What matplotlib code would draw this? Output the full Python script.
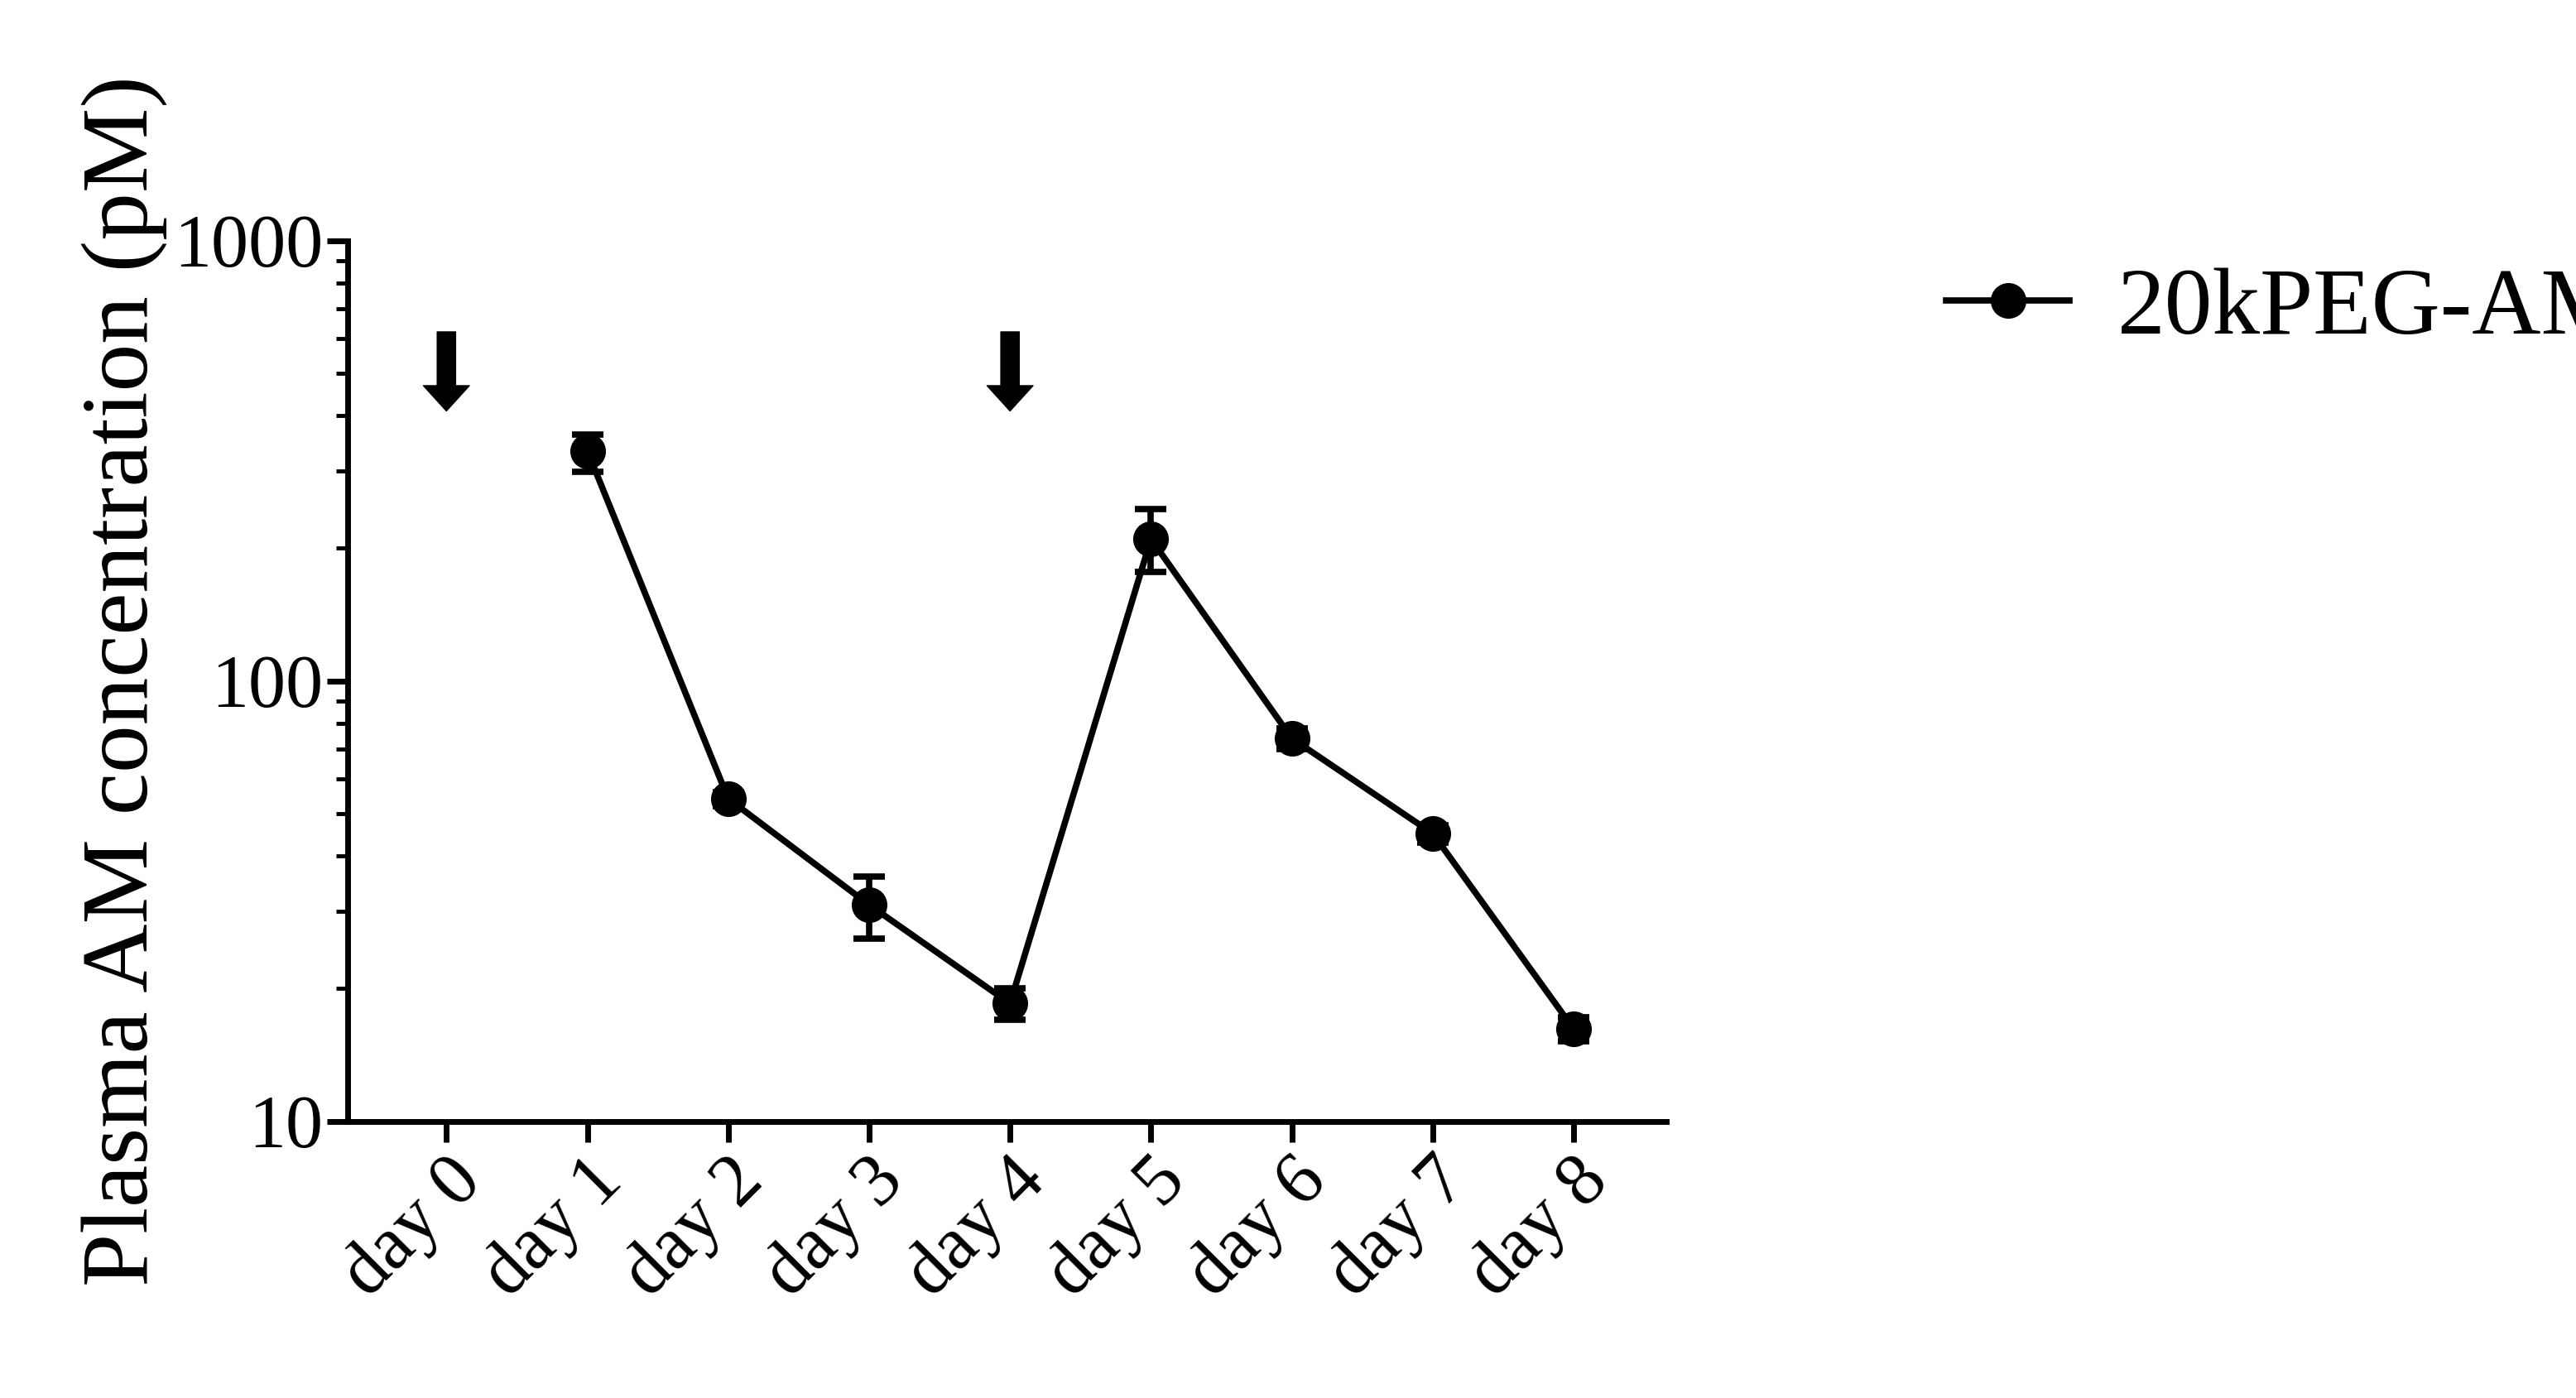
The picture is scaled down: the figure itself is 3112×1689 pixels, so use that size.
import numpy as np
import matplotlib.pyplot as plt
from matplotlib.lines import Line2D

plt.rcParams['font.family'] = ['Liberation Serif', 'DejaVu Serif']

days = ['day 0', 'day 1', 'day 2', 'day 3', 'day 4', 'day 5', 'day 6', 'day 7', 'day 8']
x_meas = [1, 2, 3, 4, 5, 6, 7, 8]
conc = [333, 54, 31, 18.5, 210, 74, 45, 16.2]
err_lo = [35, 2, 5, 1.5, 33, 4, 2, 1.0]
err_hi = [30, 2, 5, 1.5, 36, 4, 2, 1.0]
dose_days = [0, 4]

fig = plt.figure(figsize=(31.12, 16.89), dpi=100)
ax = fig.add_axes([0.135, 0.198, 0.512, 0.63])

ax.errorbar(x_meas, conc, yerr=[err_lo, err_hi], color='black', marker='o',
            markersize=30, linewidth=5.5, elinewidth=5.5, capsize=14, capthick=5.5)

for d in dose_days:
    ax.annotate('', xy=(d, 410), xytext=(d, 620),
                arrowprops=dict(facecolor='black', edgecolor='black', width=16,
                                headwidth=40, headlength=22))

ax.set_yscale('log')
ax.set_ylim(10, 1000)
ax.set_xlim(-0.7, 8.66)
ax.set_yticks([10, 100, 1000])
ax.set_yticklabels(['10', '100', '1000'])
ax.set_xticks(range(len(days)))
ax.set_xticklabels(days, rotation=45, ha='right', rotation_mode='anchor')
ax.set_ylabel('Plasma AM concentration (pM)', fontsize=83, labelpad=6)

for s in ['top', 'right']:
    ax.spines[s].set_visible(False)
for s in ['left', 'bottom']:
    ax.spines[s].set_linewidth(5)
ax.tick_params(axis='both', which='major', labelsize=65, width=5, length=18)
ax.tick_params(axis='y', which='minor', width=3.5, length=10)

handle = Line2D([], [], color='black', marker='o', markersize=30, linewidth=5.5)
fig.legend([handle], ['20kPEG-AM'], loc='center left', bbox_to_anchor=(0.722, 0.778),
           frameon=False, fontsize=83, handlelength=1.3, handletextpad=0.5)

fig.savefig('out.png', dpi=100)
